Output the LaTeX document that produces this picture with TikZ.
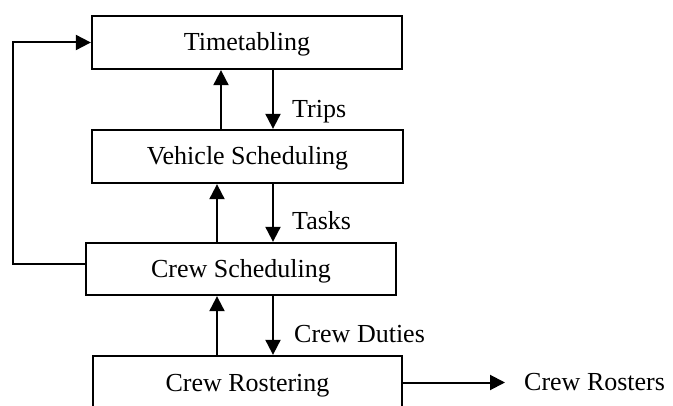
\documentclass[tikz,border=0pt]{standalone}
\usepackage{fontspec}
\setmainfont{Liberation Serif}
\usetikzlibrary{arrows.meta}
\begin{document}
\begin{tikzpicture}[x=1pt,y=1pt,
  box/.style={draw, line width=2.3pt, inner sep=0pt, minimum height=53pt,
    text height=19pt, text depth=2pt, font=\fontsize{26}{30}\selectfont},
  lbl/.style={inner sep=0pt, anchor=base west, font=\fontsize{26}{30}\selectfont},
  arr/.style={line width=2pt, -{Triangle[length=15pt,width=15pt]}}]
\useasboundingbox (0,0) rectangle (673,405);
\clip (0,0) rectangle (673,405);
\node[box, minimum width=310pt] (TT) at (247,362.5) {Timetabling};
\node[box, minimum width=311pt] (VS) at (247.5,248.5) {Vehicle Scheduling};
\node[box, minimum width=310pt, minimum height=52pt] (CS) at (241,136) {Crew Scheduling};
\node[box, minimum width=309pt] (CR) at (247.5,22.5) {Crew Rostering};
\node[lbl] (trips) at (292,287) {Trips};
\node[lbl] (tasks) at (292,175) {Tasks};
\node[lbl] (duties) at (294,63) {Crew Duties};
\node[lbl] (rosters) at (524,15) {Crew Rosters};
% vertical arrows
\draw[arr] (VS.north -| 221,0) -- (TT.south -| 221,0);
\draw[arr] (TT.south -| 273,0) -- (VS.north -| 273,0);
\draw[arr] (CS.north -| 217,0) -- (VS.south -| 217,0);
\draw[arr] (VS.south -| 273,0) -- (CS.north -| 273,0);
\draw[arr] (CR.north -| 217,0) -- (CS.south -| 217,0);
\draw[arr] (CS.south -| 273,0) -- (CR.north -| 273,0);
% feedback loop
\coordinate (lp) at (13,141);
\draw[arr] (CS.west |- lp) -- (lp) |- (TT.west);
% output
\draw[arr, shorten >=19pt] (CR.east) -- (CR.east -| rosters.west);
\end{tikzpicture}
\end{document}
